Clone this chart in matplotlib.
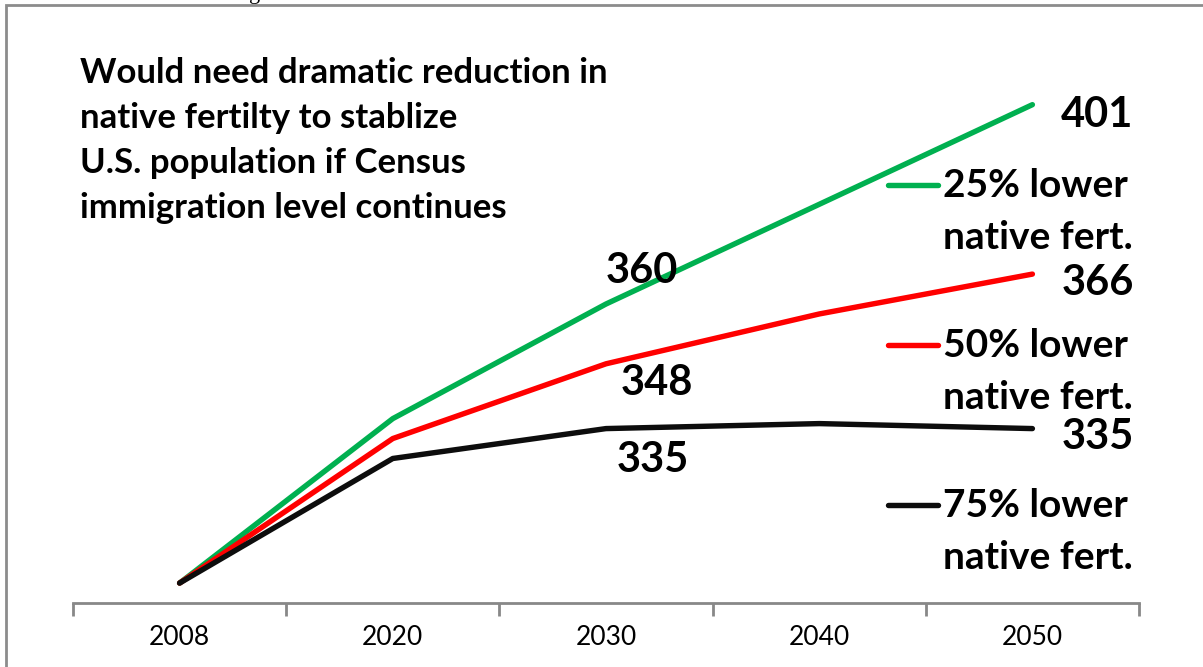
import matplotlib
matplotlib.use("Agg")
import matplotlib.pyplot as plt
from matplotlib.lines import Line2D
from matplotlib.patches import Rectangle

years = ["2008", "2020", "2030", "2040", "2050"]
fert25 = [304, 337, 360, 380, 400]
fert50 = [304, 333, 348, 358, 366]
fert75 = [304, 329, 335, 336, 335]

series_names = [["25% lower", "native fert."], ["50% lower", "native fert."],
                ["75% lower", "native fert."]]
series_colors = ["#00B050", "#FF0000", "#0D0D0D"]

# value labels: (text, category index, value)
mid_labels = [("360", 2, 360), ("348", 2, 348), ("335", 2, 335)]
end_labels = [("401", 4, 401), ("366", 4, 366), ("335", 4, 335)]

note_lines = ["Would need dramatic reduction in", "native fertilty to stablize",
              "U.S. population if Census", "immigration level continues"]

W, H = 1203, 667
fig = plt.figure(figsize=(W / 100, H / 100), dpi=100)
ax = fig.add_axes([73 / W, (H - 603) / H, (1139 - 73) / W, (603 - 5) / H])

x = list(range(len(years)))
for vals, col in zip([fert25, fert50, fert75], series_colors):
    ax.plot(x, vals, color=col, lw=3.9, solid_capstyle="round", solid_joinstyle="round")

ax.set_xlim(-0.5, 4.5)
ax.set_ylim(300, 420)
for s in ["top", "right", "left"]:
    ax.spines[s].set_visible(False)
ax.spines["bottom"].set_color("#888888")
ax.spines["bottom"].set_linewidth(2)
ax.set_yticks([])
ax.set_xticks(x)
ax.set_xticklabels(years, fontsize=19, family="Lato")
ax.set_xticks([i - 0.5 for i in range(len(years) + 1)], minor=True)
ax.tick_params(axis="x", which="major", length=0, pad=16)
ax.tick_params(axis="x", which="minor", length=9, width=2, color="#888888", direction="out")

bold = dict(family="Lato", fontweight="bold", color="black")

# labels near 2030 points
offs = [(0.17, 6.7), (0.24, -3.8), (0.22, -6.3)]
for (txt, i, v), (dx, dy) in zip(mid_labels, offs):
    ax.text(i + dx, v + dy, txt, fontsize=30, ha="center", va="center", **bold)

# labels at 2050 end
for (txt, i, v), dy in zip(end_labels, [-3.0, -1.7, -1.7]):
    ax.text(i + 0.305, v + dy, txt, fontsize=30, ha="center", va="center", **bold)

# legend (Excel style, key aligned with first line)
leg_y = [185, 345, 505]
for lines, col, yp in zip(series_names, series_colors, leg_y):
    yf = (H - yp) / H
    fig.add_artist(Line2D([888 / W, 938 / W], [yf, yf], color=col, lw=3.9,
                          solid_capstyle="round"))
    for k, line in enumerate(lines):
        fig.text(943 / W, (H - yp - 12 - 52 * k) / H, line, fontsize=28,
                 ha="left", va="baseline", **bold)

for k, line in enumerate(note_lines):
    fig.text(80 / W, (H - 83 - 45 * k) / H, line, fontsize=25, ha="left",
             va="baseline", **bold)

# outer frame of the original slide/chart
fig.add_artist(Rectangle((6 / W, -0.1), 1.2, (H - 5) / H + 0.1, fill=False,
                         edgecolor="#8c8c8c", lw=2, transform=fig.transFigure))
# descender of the cropped title above the frame
fig.text(255 / W, (H + 1) / H, "g", fontsize=16, family="Liberation Serif",
         ha="center", va="baseline")

fig.savefig("out.png", dpi=100)
